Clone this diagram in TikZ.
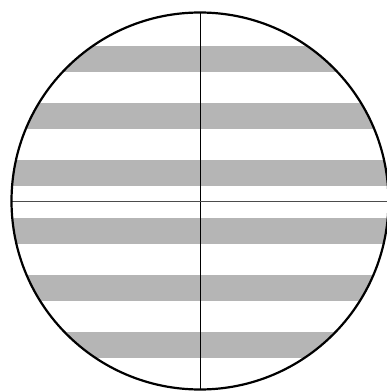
\documentclass[tikz,border=0pt]{standalone}
\usetikzlibrary{calc}
\tikzset{
  perem/.style={draw,line width=2.2pt},
  csik/.style={fill=black!29},
  kereszt/.style={line width=0.7pt},
}
\begin{document}
\begin{tikzpicture}[x=1pt,y=1pt]
  \useasboundingbox (0,0) rectangle (387,392);
  \coordinate (o) at (200,191);
  % stripes
  \begin{scope}
    \clip (o) circle[radius=188.5];
    \foreach \y in {46,103.2,160.4,217.6,274.8,332}
      \fill[csik] (0,{392-\y}) rectangle (390,{392-\y-26});
  \end{scope}
  % cross lines
  \draw[kereszt] ($(o)+(0,188.5)$) -- ($(o)-(0,188.5)$);
  \draw[kereszt,black!70] ($(o)-(188.5,0)$) -- ($(o)+(188.5,0)$);
  \draw[perem] (o) circle[radius=188.5];
\end{tikzpicture}
\end{document}
